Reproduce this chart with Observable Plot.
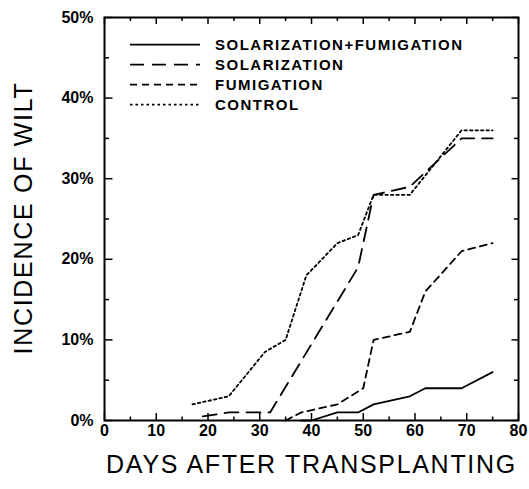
<!DOCTYPE html>
<html><head><meta charset="utf-8">
<script src="https://cdn.jsdelivr.net/npm/d3@7"></script>
<script src="https://cdn.jsdelivr.net/npm/@observablehq/plot@0.6"></script>
<style>
body{margin:0;background:#fff}
g[aria-label="legend"] text {letter-spacing:1.5px}
</style></head><body><div id="chart"></div>
<script>
const seriesNames = ["SOLARIZATION+FUMIGATION","SOLARIZATION","FUMIGATION","CONTROL"];
const solFumDays = [38,40,45,49,52,59,62,69,75];
const solFumWilt = [0,0,1,1,2,3,4,4,6];
const solDays = [19,24,32,49,52,59,69,75];
const solWilt = [0.5,1,1,19,28,29,35,35];
const fumDays = [35,38,45,50,52,59,62,69,75];
const fumWilt = [0,1,2,4,10,11,16,21,22];
const ctlDays = [17,24,31,35,39,45,49,52,59,69,75];
const ctlWilt = [2,3,8.5,10,18,22,23,28,28,36,36];
const xTicks = [0,10,20,30,40,50,60,70,80];
const xMinorTicks = [5,15,25,35,45,55,65,75];
const yTicks = [0,10,20,30,40,50];
const yMinorTicks = [5,15,25,35,45];
const yTickLabels = ["0%","10%","20%","30%","40%","50%"];
const xTitle = "DAYS AFTER TRANSPLANTING";
const yTitle = "INCIDENCE OF WILT";

const dashes = [null,"14,8","7,5","2.5,3"];
const series = [[solFumDays,solFumWilt],[solDays,solWilt],[fumDays,fumWilt],[ctlDays,ctlWilt]];
const rows = series.flatMap(([d,w],i)=> d.map((x,j)=>({series: seriesNames[i], day:x, wilt:w[j]})));

const W=529,H=489,mL=104,mR=11,mT=17,mB=69;
const iw=W-mL-mR, ih=H-mT-mB;
const font = "'Liberation Sans', Arial, sans-serif";

const lineMarks = seriesNames.map((name,i)=> Plot.line(rows.filter(r=>r.series===name), {
  x:"day", y:"wilt", stroke:"black", strokeWidth:1.8,
  ...(dashes[i] ? {strokeDasharray: dashes[i]} : {})
}));

const svg = Plot.plot({
  width:W, height:H, marginLeft:mL, marginRight:mR, marginTop:mT, marginBottom:mB,
  style:{fontFamily:font, background:"white", color:"black"},
  x:{domain:[0,80]}, y:{domain:[0,50]},
  marks:[
    Plot.axisX({ticks:xTicks, tickSize:0, tickPadding:4, fontSize:16, fontWeight:"bold", label:null}),
    Plot.axisY({ticks:yTicks, tickSize:0, tickPadding:11, fontSize:16, fontWeight:"bold", label:null,
      tickFormat:d=>yTickLabels[yTicks.indexOf(d)]}),
    Plot.tickX(xTicks, {x:d=>d, insetTop:ih-7, strokeWidth:1.5}),
    Plot.tickX(xMinorTicks, {x:d=>d, insetTop:ih-3.5, strokeWidth:1.5}),
    Plot.tickX(xTicks, {x:d=>d, insetBottom:ih-7, strokeWidth:1.5}),
    Plot.tickX(xMinorTicks, {x:d=>d, insetBottom:ih-4, strokeWidth:1.5}),
    Plot.tickY(yTicks, {y:d=>d, insetRight:iw-8.5, strokeWidth:1.5}),
    Plot.tickY(yMinorTicks, {y:d=>d, insetRight:iw-5, strokeWidth:1.5}),
    Plot.tickY(yTicks, {y:d=>d, insetLeft:iw-6.5, strokeWidth:1.5}),
    Plot.tickY(yMinorTicks, {y:d=>d, insetLeft:iw-4, strokeWidth:1.5}),
    Plot.frame({stroke:"black", strokeWidth:2}),
    ...lineMarks,
    Plot.text([yTitle], {text:d=>d, frameAnchor:"left", textAnchor:"middle", lineAnchor:"middle", rotate:-90, dx:-80.5, dy:-1, fontSize:25, fill:"black"}),
    Plot.text([xTitle], {text:d=>d, frameAnchor:"bottom", textAnchor:"middle", lineAnchor:"middle", dy:44, fontSize:25, fill:"black"})
  ]
});

d3.select(svg).selectAll("text").filter(function(){ return this.textContent===xTitle || this.textContent===yTitle; })
  .style("letter-spacing","1.7px");

const lg = d3.select(svg).append("g").attr("aria-label","legend");
seriesNames.forEach((name,i)=>{
  const y = 44.7 + 20*i;
  const ln = lg.append("line").attr("x1",130).attr("x2",200).attr("y1",y).attr("y2",y)
    .attr("stroke","black").attr("stroke-width",1.8);
  if (dashes[i]) ln.attr("stroke-dasharray", dashes[i]);
  lg.append("text").attr("x",215).attr("y",y).attr("dy","0.35em").attr("text-anchor","start")
    .attr("font-size",15).attr("font-weight","bold").attr("fill","black").text(name);
});
document.getElementById("chart").appendChild(svg);
</script></body></html>
